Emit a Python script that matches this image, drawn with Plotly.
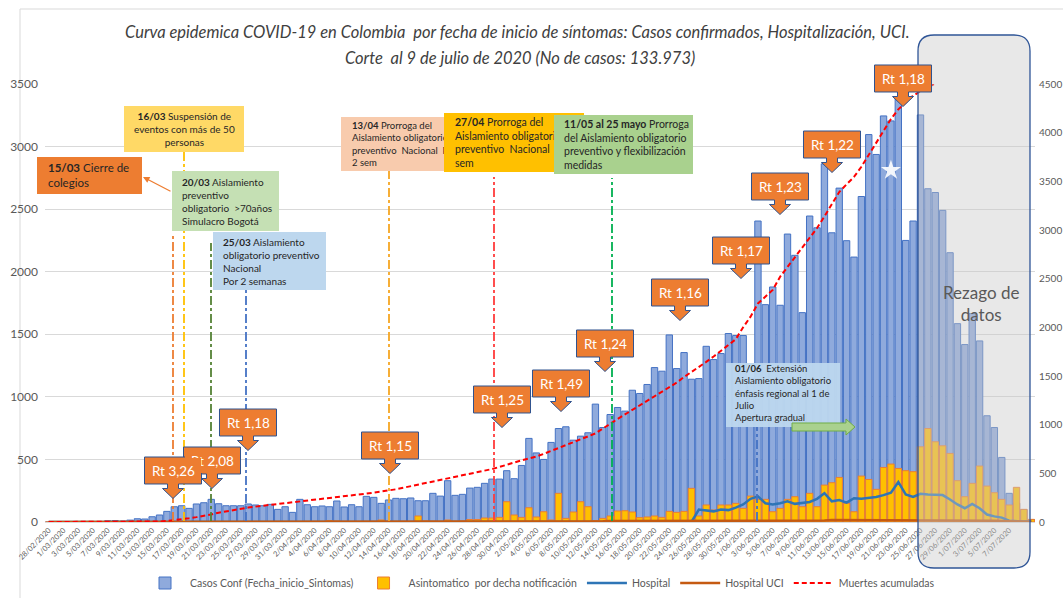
import plotly.graph_objects as go
import pandas as pd

# ---------------- DATA ----------------
fechas = [f"{d.day}/{d.month:02d}/{d.year}" for d in pd.date_range("2020-02-28", periods=134)]
tick_fechas = fechas[0:131:2]

casos = [
    0, 1, 0, 1, 1, 2, 3, 4, 10, 12,
    8, 15, 26, 24, 42, 56, 85, 122, 130, 109,
    144, 154, 181, 146, 130, 130, 130, 144, 136, 130,
    141, 101, 122, 77, 181, 138, 122, 128, 122, 168,
    120, 138, 122, 205, 197, 149, 176, 189, 186, 192,
    170, 170, 229, 207, 330, 213, 221, 271, 277, 309,
    343, 343, 410, 346, 452, 668, 552, 500, 636, 747,
    761, 654, 686, 713, 942, 755, 859, 915, 886, 1053,
    1027, 1099, 1234, 1205, 1495, 1226, 1354, 1141, 1146, 1404,
    1298, 1346, 1506, 1490, 1490, 1150, 2405, 1737, 1878, 1732,
    2301, 2131, 1673, 2445, 2351, 2862, 2311, 2668, 2248, 2117,
    2601, 3096, 2937, 3245, 3205, 3381, 2250, 2405, 3253, 2663,
    2633, 2490, 2152, 1585, 1418, 1665, 1447, 849, 755, 516,
    229, 150, 100, 20]

asintomaticos = [
    0, 0, 0, 0, 0, 0, 0, 0, 0, 0,
    0, 0, 0, 0, 0, 0, 0, 4, 3, 0,
    0, 0, 0, 0, 0, 0, 0, 0, 0, 0,
    2, 0, 0, 0, 0, 0, 0, 0, 12, 8,
    0, 0, 0, 0, 0, 16, 0, 0, 0, 0,
    48, 8, 5, 0, 16, 5, 8, 20, 20, 32,
    32, 37, 162, 56, 37, 114, 40, 82, 16, 229,
    29, 80, 162, 122, 11, 29, 48, 88, 90, 80,
    35, 40, 48, 37, 85, 77, 85, 269, 48, 136,
    96, 136, 136, 149, 109, 207, 181, 181, 82, 109,
    181, 202, 122, 229, 122, 295, 314, 356, 149, 82,
    367, 340, 261, 436, 463, 428, 410, 402, 601, 747,
    641, 609, 548, 330, 202, 309, 447, 287, 234, 181,
    136, 277, 101, 21]

hospital = [
    0, 0, 0, 0, 0, 0, 0, 0, 0, 0,
    0, 0, 0, 0, 0, 0, 0, 0, 0, 0,
    0, 0, 0, 0, 0, 0, 0, 0, 0, 0,
    0, 0, 0, 0, 0, 0, 0, 0, 0, 0,
    0, 0, 0, 0, 0, 0, 0, 0, 0, 0,
    0, 0, 0, 0, 0, 0, 0, 0, 0, 0,
    0, 0, 0, 0, 0, 0, 0, 0, 0, 0,
    0, 0, 0, 0, 0, 0, 0, 0, 0, 0,
    0, 0, 0, 0, 0, 0, 0, 0, 100, 90,
    85, 100, 95, 115, 140, 185, 205, 150, 140, 150,
    165, 145, 150, 160, 185, 230, 165, 175, 155, 190,
    185, 190, 200, 215, 235, 320, 220, 200, 225, 220,
    215, 215, 180, 140, 110, 145, 110, 60, 45, 35,
    10, 5, 3, 3]

hospital_uci = [
    0, 0, 0, 0, 0, 0, 0, 0, 0, 0,
    0, 0, 0, 0, 0, 0, 0, 0, 0, 0,
    0, 0, 2, 2, 2, 2, 2, 2, 2, 2,
    2, 2, 2, 2, 2, 2, 2, 2, 2, 2,
    2, 2, 2, 2, 2, 4, 4, 4, 4, 4,
    4, 4, 4, 4, 4, 4, 4, 4, 4, 4,
    4, 6, 6, 6, 6, 6, 6, 6, 6, 6,
    6, 6, 6, 6, 6, 6, 8, 8, 8, 8,
    8, 8, 8, 8, 8, 8, 8, 8, 8, 8,
    8, 12, 12, 12, 12, 12, 12, 12, 12, 12,
    12, 12, 12, 12, 12, 12, 16, 16, 16, 16,
    16, 16, 16, 16, 16, 16, 16, 16, 16, 16,
    16, 14, 14, 14, 14, 14, 14, 14, 10, 8,
    6, 4, 3, 2]

muertes = [
    0, 0, 0, 0, 0, 0, 0, 0, 0, 0,
    0, 0, 0, 0, 2, 5, 10, 18, 28, 38,
    50, 62, 78, 95, 110, 125, 138, 148, 158, 167,
    175, 184, 193, 202, 211, 219, 227, 234, 241, 249,
    259, 270, 281, 292, 302, 311, 320, 336, 352, 368,
    383, 397, 412, 428, 443, 460, 476, 492, 509, 526,
    544, 565, 588, 615, 634, 653, 672, 700, 730, 762,
    792, 822, 852, 882, 910, 960, 1012, 1058, 1105, 1152,
    1198, 1244, 1290, 1338, 1385, 1432, 1490, 1540, 1592, 1645,
    1700, 1762, 1818, 1878, 2000, 2110, 2245, 2318, 2385, 2520,
    2620, 2710, 2810, 2910, 3020, 3140, 3270, 3390, 3470, 3545,
    3650, 3770, 3900, 4020, 4140, 4240, 4310, 4380, 4425, 4465,
    4505]

estrella_fecha = ["21/06/2020"]
estrella_valor = [2810]

rt_textos = ["Rt 2,08", "Rt 3,26", "Rt 1,18", "Rt 1,15", "Rt 1,25", "Rt 1,49",
             "Rt 1,24", "Rt 1,16", "Rt 1,17", "Rt 1,23", "Rt 1,22", "Rt 1,18"]

# ---------------- GEOMETRY HELPERS (pixel -> paper) ----------------
PL, PR, PT, PB = 45, 1035, 84, 522
def X(p):
    return (p - PL) / (PR - PL)
def Y(p):
    return (PB - p) / (PB - PT)

def path(points):
    return "M " + " L ".join(f"{X(a):.5f},{Y(b):.5f}" for a, b in points) + " Z"

FONT = "Lato"
GRAY = "#595959"
TXT = "#262626"

fig = go.Figure()
fig.add_trace(go.Bar(x=fechas, y=casos, name="Casos Conf (Fecha_inicio_Sintomas)",
                     marker=dict(color="#8FAADC", line=dict(color="#4472C4", width=1)),
                     width=0.86))
fig.add_trace(go.Bar(x=fechas, y=asintomaticos, name="Asintomatico  por decha notificación",
                     marker=dict(color="#FFC000", line=dict(color="#ED7D31", width=1)),
                     width=0.86))
fig.add_trace(go.Scatter(x=fechas, y=hospital, mode="lines", name="Hospital",
                         line=dict(color="#2E75B6", width=2.5)))
fig.add_trace(go.Scatter(x=fechas, y=hospital_uci, mode="lines", name="Hospital UCI",
                         line=dict(color="#C55A11", width=2.5)))
fig.add_trace(go.Scatter(x=fechas[:len(muertes)], y=muertes, mode="lines",
                         name="Muertes acumuladas", yaxis="y2",
                         line=dict(color="#FF0000", width=2, dash="5px,3px")))
fig.add_trace(go.Scatter(x=estrella_fecha, y=estrella_valor, mode="markers", showlegend=False,
                         hoverinfo="skip",
                         marker=dict(symbol="star", size=15, color="rgba(255,255,255,0.9)")))

shapes = []
annotations = []

# outer chart border
shapes.append(dict(type="rect", xref="paper", yref="paper", x0=X(20), x1=X(1100),
                   y0=Y(640), y1=Y(9), line=dict(color="#D9D9D9", width=1), layer="below"))

# policy date lines
vlines = [(173, 233, "#ED7D31"), (184, 152, "#FFC000"), (211, 243, "#548235"),
          (246, 290, "#4472C4"), (389, 171, "#F5A623"), (494, 177, "#FF3B3B"),
          (612, 178, "#00B050"), (757, 427, "#4472C4")]
for xp, top, col in vlines:
    shapes.append(dict(type="line", xref="paper", yref="paper", x0=X(xp), x1=X(xp),
                       y0=Y(521), y1=Y(top), line=dict(color=col, width=1.8, dash="dashdot"),
                       layer="above"))

# "Rezago de datos" rounded box
bx0, by0, bx1, by1, r = 918, 35, 1030, 568, 16
rr = (f"M {X(bx0 + r):.5f},{Y(by0):.5f} L {X(bx1 - r):.5f},{Y(by0):.5f} "
      f"Q {X(bx1):.5f},{Y(by0):.5f} {X(bx1):.5f},{Y(by0 + r):.5f} "
      f"L {X(bx1):.5f},{Y(by1 - r):.5f} Q {X(bx1):.5f},{Y(by1):.5f} {X(bx1 - r):.5f},{Y(by1):.5f} "
      f"L {X(bx0 + r):.5f},{Y(by1):.5f} Q {X(bx0):.5f},{Y(by1):.5f} {X(bx0):.5f},{Y(by1 - r):.5f} "
      f"L {X(bx0):.5f},{Y(by0 + r):.5f} Q {X(bx0):.5f},{Y(by0):.5f} {X(bx0 + r):.5f},{Y(by0):.5f} Z")
shapes.append(dict(type="path", xref="paper", yref="paper", path=rr,
                   fillcolor="rgba(200,200,200,0.42)", line=dict(color="#2F5597", width=1.3),
                   layer="above"))
annotations.append(dict(xref="paper", yref="paper", x=X(981), y=Y(303), showarrow=False,
                        xanchor="center", yanchor="middle",
                        text="Rezago de<br>datos", font=dict(family=FONT, size=17, color=GRAY)))

# 01/06 box (shape so the green arrow can sit on top)
shapes.append(dict(type="rect", xref="paper", yref="paper", x0=X(726), x1=X(840),
                   y0=Y(427), y1=Y(363), fillcolor="rgba(189,215,238,0.95)",
                   line=dict(width=0), layer="above"))
shapes.append(dict(type="path", xref="paper", yref="paper",
                   path=path([(792, 423), (846, 423), (846, 419), (855, 427), (846, 435),
                              (846, 431), (792, 431)]),
                   fillcolor="#A9D18E", line=dict(color="#70AD47", width=1), layer="above"))
annotations.append(dict(xref="paper", yref="paper", x=X(733), y=Y(393), xanchor="left",
                        yanchor="middle", align="left", showarrow=False,
                        text="<b>01/06</b>  Extensión<br>Aislamiento obligatorio<br>"
                             "énfasis regional al 1 de<br>Julio<br>Apertura gradual",
                        font=dict(family=FONT, size=9.5, color=TXT)))

# policy boxes: background annotation + text annotation, in drawing order
policies = [
    (37, 142, 157, 194, "<b>15/03</b> Cierre de<br>colegios", "#ED7D31", 11.5, "left", 9),
    (124, 244, 106, 152, "<b>16/03</b> Suspensión de<br>eventos con más de 50<br>personas",
     "#FFD966", 10, "center", 0),
    (172, 279, 171, 231, "<b>20/03</b> Aislamiento<br>preventivo<br>obligatorio  >70años<br>Simulacro Bogotá",
     "#C5E0B4", 10, "left", 8),
    (213, 326, 232, 290, "<b>25/03</b> Aislamiento<br>obligatorio preventivo<br>Nacional<br>Por 2 semanas",
     "#BDD7EE", 10, "left", 8),
    (341, 444, 117, 171, "<b>13/04</b> Prorroga del<br>Aislamiento obligatorio<br>preventivo  Nacional  Por<br>2 sem",
     "#F8CBAD", 9.5, "left", 9),
    (444, 584, 113, 172, "<b>27/04</b> Prorroga del<br>Aislamiento obligatorio<br>preventivo  Nacional  Por<br>sem",
     "#FFC000", 10.5, "left", 9),
    (554, 693, 115, 174, "<b>11/05 al 25 mayo</b> Prorroga<br>del Aislamiento obligatorio<br>preventivo y flexibilización<br>medidas",
     "#A9D18E", 10.5, "left", 8),
]
for x0, x1, y0, y1, txt, bg, fs, al, pad in policies:
    annotations.append(dict(xref="paper", yref="paper", x=X((x0 + x1) / 2), y=Y((y0 + y1) / 2),
                            xanchor="center", yanchor="middle", showarrow=False,
                            text=" ", bgcolor=bg, borderwidth=0, borderpad=0,
                            width=x1 - x0, height=y1 - y0, font=dict(size=2)))
    if al == "left":
        annotations.append(dict(xref="paper", yref="paper", x=X(x0 + pad), y=Y((y0 + y1) / 2),
                                xanchor="left", yanchor="middle", showarrow=False,
                                text=txt, align="left",
                                font=dict(family=FONT, size=fs, color=TXT)))
    else:
        annotations.append(dict(xref="paper", yref="paper", x=X((x0 + x1) / 2), y=Y((y0 + y1) / 2),
                                xanchor="center", yanchor="middle", showarrow=False,
                                text=txt, align="center",
                                font=dict(family=FONT, size=fs, color=TXT)))

# small arrow 20/03 -> 15/03
annotations.append(dict(xref="paper", yref="paper", x=X(143), y=Y(177), ax=29, ay=15,
                        axref="pixel", ayref="pixel", text="", showarrow=True,
                        arrowhead=2, arrowsize=1, arrowwidth=1.3, arrowcolor="#ED7D31"))

# Rt callouts: (center x, box top)
rt_pos = [(212, 447), (173, 457), (248, 409), (390, 432), (502, 386), (561, 370),
          (605, 330), (680, 279), (741, 237), (780, 173), (832, 131), (903, 65)]
W, H = 57, 27
for (cx, top), txt in zip(rt_pos, rt_textos):
    yb = top + H
    pts = [(cx - W / 2, top), (cx + W / 2, top), (cx + W / 2, yb), (cx + 5.5, yb),
           (cx + 5.5, yb + 4.5), (cx + 10.5, yb + 4.5), (cx, yb + 14.5),
           (cx - 10.5, yb + 4.5), (cx - 5.5, yb + 4.5), (cx - 5.5, yb), (cx - W / 2, yb)]
    shapes.append(dict(type="path", xref="paper", yref="paper", path=path(pts),
                       fillcolor="#ED7D31", line=dict(color="#2F528F", width=1), layer="above"))
    annotations.append(dict(xref="paper", yref="paper", x=X(cx), y=Y(top + H / 2),
                            xanchor="center", yanchor="middle", showarrow=False, text=txt,
                            bgcolor="#ED7D31", borderwidth=0, borderpad=0,
                            width=W - 2, height=H - 2,
                            font=dict(family=FONT, size=13.5, color="white")))

# title
annotations.append(dict(xref="paper", yref="paper", x=X(517), y=Y(32), showarrow=False,
                        xanchor="center", yanchor="middle",
                        text="Curva epidemica COVID-19 en Colombia  por fecha de inicio de síntomas: "
                             "Casos confirmados, Hospitalización, UCI.",
                        font=dict(family=FONT, size=16.5, color="#404040", style="italic")))
annotations.append(dict(xref="paper", yref="paper", x=X(520), y=Y(58), showarrow=False,
                        xanchor="center", yanchor="middle",
                        text="Corte  al 9 de julio de 2020 (No de casos: 133.973)",
                        font=dict(family=FONT, size=16.5, color="#404040", style="italic")))

fig.update_layout(
    width=1063, height=598, autosize=False,
    margin=dict(l=PL, r=1063 - PR, t=PT, b=598 - PB, autoexpand=False),
    paper_bgcolor="white", plot_bgcolor="white",
    font=dict(family=FONT, color=GRAY),
    barmode="overlay",
    showlegend=True,
    legend=dict(orientation="h", x=X(540), xanchor="center", y=Y(583), yanchor="middle",
                font=dict(family=FONT, size=10.5, color=GRAY), bgcolor="rgba(0,0,0,0)",
                itemwidth=40),
    xaxis=dict(type="category", categoryorder="array", categoryarray=fechas,
               range=[-0.5, len(fechas) - 0.5], tickmode="array", tickvals=tick_fechas,
               ticktext=tick_fechas, tickangle=-45, tickfont=dict(size=7.5, color=GRAY),
               showgrid=False, showline=True, linecolor="#D9D9D9", ticks="", zeroline=False,
               automargin=False),
    yaxis=dict(range=[0, 3500], dtick=500, gridcolor="#D9D9D9", showline=False, zeroline=False,
               ticks="", tickfont=dict(size=12, color=GRAY), ticklabelstandoff=6,
               automargin=False),
    yaxis2=dict(range=[0, 4500], dtick=500, overlaying="y", side="right", showgrid=False,
                zeroline=False, showline=False, ticks="", tickfont=dict(size=10, color=GRAY),
                ticklabelstandoff=3, automargin=False),
    shapes=shapes,
    annotations=annotations,
)

fig.write_html("out.html", config={"displayModeBar": False},
               post_script="document.body.style.margin='0';document.body.style.overflow='hidden';")
